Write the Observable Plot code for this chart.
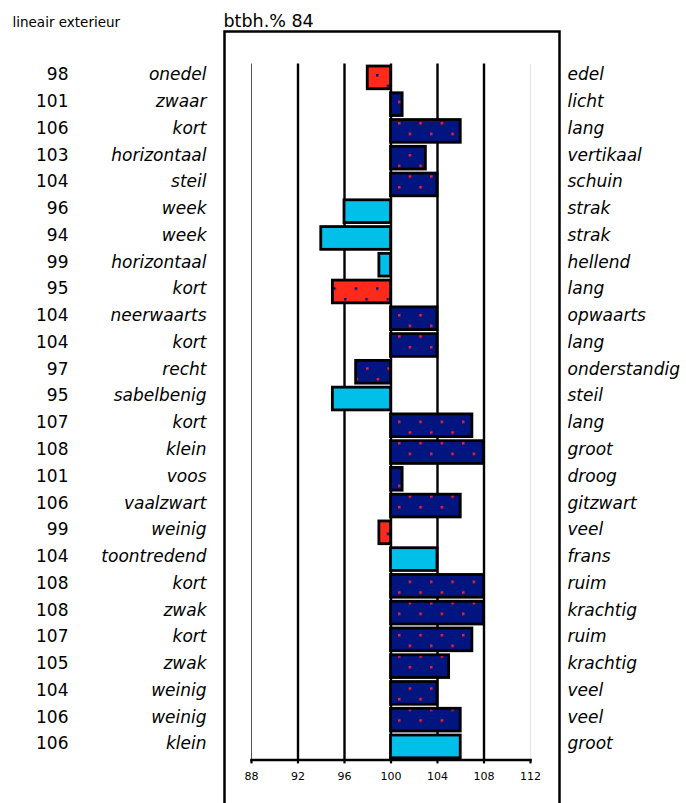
<!DOCTYPE html>
<html><head><meta charset="utf-8">
<script src="https://cdn.jsdelivr.net/npm/d3@7"></script>
<script src="https://cdn.jsdelivr.net/npm/@observablehq/plot@0.6"></script>
<style>body{margin:0;background:#fff}</style>
</head><body><div id="chart"></div>
<script>
const header = "lineair exterieur";
const title = "btbh.% 84";
const values = [98,101,106,103,104,96,94,99,95,104,104,97,95,107,108,101,106,99,104,108,108,107,105,104,106,106];
const leftLabels = ["onedel","zwaar","kort","horizontaal","steil","week","week","horizontaal","kort","neerwaarts","kort","recht","sabelbenig","kort","klein","voos","vaalzwart","weinig","toontredend","kort","zwak","kort","zwak","weinig","weinig","klein"];
const rightLabels = ["edel","licht","lang","vertikaal","schuin","strak","strak","hellend","lang","opwaarts","lang","onderstandig","steil","lang","groot","droog","gitzwart","veel","frans","ruim","krachtig","ruim","krachtig","veel","veel","groot"];
const kinds = ["red","navy","navy","navy","navy","cyan","cyan","cyan","red","navy","navy","navy","cyan","navy","navy","navy","navy","red","cyan","navy","navy","navy","navy","navy","navy","cyan"];
const xTicks = [88,92,96,100,104,108,112];
const baseline = 100;

const fills = {red: "url(#dotsRed)", navy: "url(#dotsNavy)", cyan: "#00bfe8"};
const data = values.map((v, i) => ({row: i, v, left: leftLabels[i], right: rightLabels[i], kind: kinds[i]}));
const rows = data.map(d => d.row);

const F = "DejaVu Sans";
const svg = Plot.plot({
  width: 686,
  height: 803,
  marginTop: 63.6,
  marginBottom: 43.6,
  marginLeft: 224,
  marginRight: 127,
  insetLeft: 27,
  insetRight: 29,
  style: {fontFamily: F, background: "#fff", color: "#000"},
  x: {domain: [88, 112]},
  y: {domain: rows, range: [62, 761.8], padding: 0.15, round: false, axis: null},
  color: {type: "identity"},
  marks: [
    Plot.frame({insetTop: -32.6, insetBottom: -60, stroke: "#000", strokeWidth: 2.5}),
    Plot.ruleX(xTicks, {
      stroke: d => d === 88 ? "#555" : d === 112 ? "#e4e4e4" : "#000",
      strokeWidth: d => (d === 88 || d === 112) ? 1 : 2.4
    }),
    Plot.frame({anchor: "bottom", insetLeft: 27, insetRight: 29, stroke: "#000", strokeWidth: 2.5}),
    Plot.axisX(xTicks, {tickSize: 4, tickPadding: 8, fontSize: 11, strokeWidth: 2.2, label: null, tickFormat: d => String(d), fill: "#000"}),
    Plot.barX(data, {x1: baseline, x2: "v", y: "row", fill: d => fills[d.kind], stroke: "#000", strokeWidth: 2.8}),
    Plot.text(data, {y: "row", text: d => String(d.v), frameAnchor: "left", dx: -156, dy: -3, textAnchor: "end", fontSize: 17, fill: "#000"}),
    Plot.text(data, {y: "row", text: "left", frameAnchor: "left", dx: -18, dy: -3, textAnchor: "end", fontSize: 17, fontStyle: "italic", fill: "#000"}),
    Plot.text(data, {y: "row", text: "right", frameAnchor: "right", dx: 8, dy: -3, textAnchor: "start", fontSize: 17, fontStyle: "italic", fill: "#000"}),
    Plot.text([title], {text: d => d, frameAnchor: "top-left", dx: -1, dy: -37.6, lineAnchor: "bottom", textAnchor: "start", fontSize: 17.5, fill: "#000"}),
    Plot.text([header], {text: d => d, frameAnchor: "top-left", dx: -212, dy: -37, lineAnchor: "bottom", textAnchor: "start", fontSize: 13.5, fill: "#000"})
  ]
});

const defs = document.createElementNS("http://www.w3.org/2000/svg", "defs");
defs.innerHTML =
  '<pattern id="dotsNavy" patternUnits="userSpaceOnUse" x="398" y="122" width="21.33" height="21.33">' +
  '<rect width="21.33" height="21.33" fill="#001580"/>' +
  '<rect x="0" y="0" width="2.5" height="2.5" fill="#ff2020"/>' +
  '<rect x="10.67" y="10.67" width="2.5" height="2.5" fill="#ff2020"/></pattern>' +
  '<pattern id="dotsRed" patternUnits="userSpaceOnUse" x="376" y="74" width="21.33" height="21.33">' +
  '<rect width="21.33" height="21.33" fill="#ff2a1a"/>' +
  '<rect x="0" y="0" width="2.5" height="2.5" fill="#001580"/>' +
  '<rect x="10.67" y="10.67" width="2.5" height="2.5" fill="#001580"/></pattern>';
svg.insertBefore(defs, svg.firstChild);
document.getElementById("chart").appendChild(svg);
</script>
</body></html>
